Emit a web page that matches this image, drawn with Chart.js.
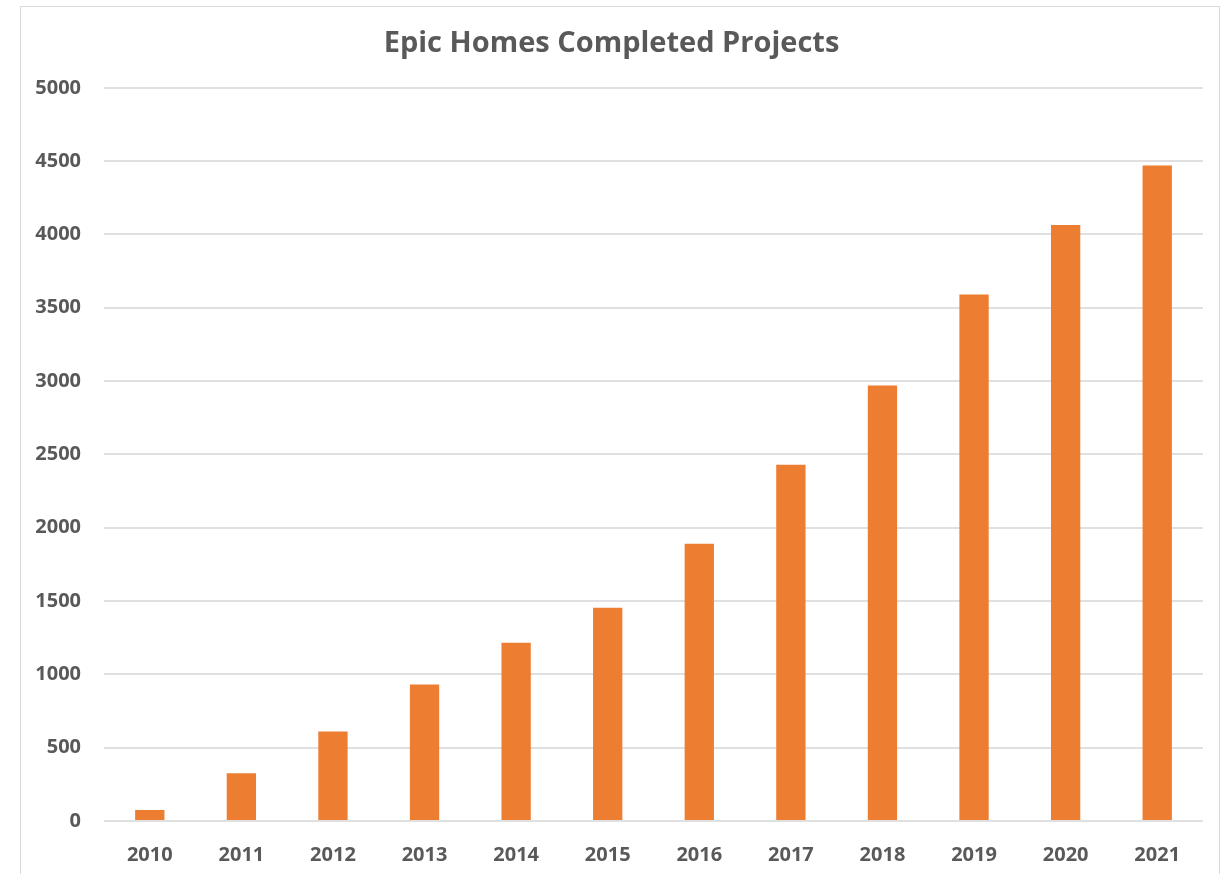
<!DOCTYPE html>
<html>
<head>
<meta charset="utf-8">
<script src="https://cdn.jsdelivr.net/npm/chart.js@4/dist/chart.umd.min.js"></script>
<style>
    html, body { margin: 0; padding: 0; background: #fff; }
    #wrap { position: relative; width: 1223px; height: 874px; }
    #frame { position: absolute; left: 20px; top: 6px; width: 1200px; height: 880px; border: 1px solid #d9d9d9; box-sizing: border-box; }
    #projChart { position: absolute; left: 0; top: 0; }
</style>
</head>
<body>
<div id="wrap">
    <div id="frame"></div>
    <canvas id="projChart" width="1223" height="874"></canvas>
</div>
<script>
const years = ['2010', '2011', '2012', '2013', '2014', '2015', '2016', '2017', '2018', '2019', '2020', '2021'];
const completed = [75, 325, 610, 930, 1215, 1455, 1890, 2430, 2970, 3590, 4065, 4470];
const yTicks = [0, 500, 1000, 1500, 2000, 2500, 3000, 3500, 4000, 4500, 5000];

const textGray = '#595959';
const gridGray = '#e0e0e0';

let projChart;

function renderProjects() {
    if (projChart) {
        projChart.destroy();
    }
    var ctx = document.getElementById('projChart').getContext('2d');
    projChart = new Chart(ctx, {
        type: 'bar',
        data: {
            labels: years,
            datasets: [{
                label: 'Completed Projects',
                data: completed,
                backgroundColor: '#ED7D31',
                borderWidth: 0,
                barPercentage: 0.32,
                categoryPercentage: 1,
            }],
        },
        options: {
            responsive: false,
            animation: false,
            layout: { padding: { left: 20, right: 20, top: 6, bottom: 0 } },
            plugins: {
                legend: { display: false },
                tooltip: { enabled: false },
                title: {
                    display: true,
                    text: 'Epic Homes Completed Projects',
                    color: textGray,
                    font: { family: 'Open Sans', size: 29, weight: 'bold', lineHeight: 1.2 },
                    padding: { top: 20, bottom: 27 },
                },
            },
            scales: {
                x: {
                    grid: { display: false, drawTicks: false },
                    border: { display: false },
                    ticks: {
                        color: textGray,
                        padding: 22,
                        maxRotation: 0,
                        font: { family: 'Open Sans', size: 20, weight: 'bold' },
                    },
                    afterFit: function (scale) { scale.height = 53; },
                },
                y: {
                    min: 0,
                    max: 5000,
                    afterBuildTicks: function (scale) {
                        scale.ticks = yTicks.map(v => ({ value: v }));
                    },
                    grid: { color: gridGray, lineWidth: 2, drawTicks: false },
                    border: { display: false },
                    ticks: {
                        color: textGray,
                        padding: 23,
                        font: { family: 'Open Sans', size: 20, weight: 'bold' },
                        callback: function (value) { return String(value); },
                    },
                    afterFit: function (scale) { scale.width = 84; },
                },
            },
        },
    });
}

document.addEventListener('DOMContentLoaded', function () {
    renderProjects();
});
</script>
</body>
</html>
